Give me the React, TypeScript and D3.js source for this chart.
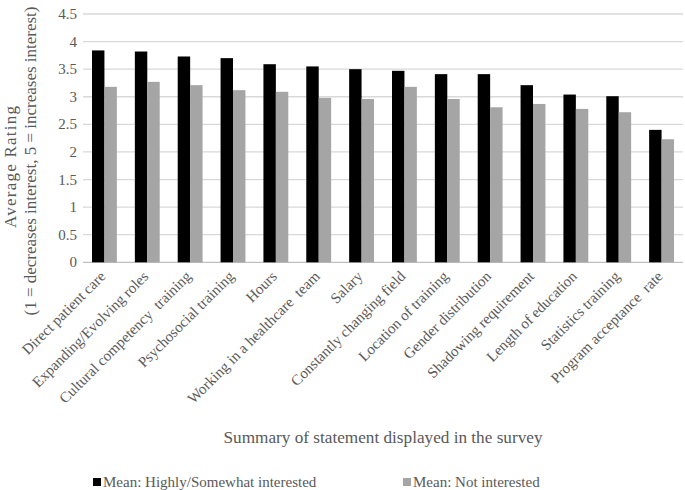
import React from "react";
import * as d3 from "d3";

const categories = [
  "Direct patient care",
  "Expanding/Evolving roles",
  "Cultural competency  training",
  "Psychosocial training",
  "Hours",
  "Working in a healthcare  team",
  "Salary",
  "Constantly changing field",
  "Location of training",
  "Gender distribution",
  "Shadowing requirement",
  "Length of education",
  "Statistics training",
  "Program acceptance  rate",
];
const interested = [3.84, 3.82, 3.73, 3.7, 3.59, 3.55, 3.5, 3.47, 3.41, 3.41, 3.21, 3.04, 3.01, 2.4];
const notInterested = [3.18, 3.27, 3.21, 3.12, 3.09, 2.98, 2.96, 3.18, 2.96, 2.81, 2.87, 2.78, 2.72, 2.23];
const yTicks = [0, 0.5, 1, 1.5, 2, 2.5, 3, 3.5, 4, 4.5];
const seriesNames = ["Mean: Highly/Somewhat interested", "Mean: Not interested"];
const seriesColors = ["#000000", "#a5a5a5"];

const W = 685;
const H = 490;
const m = { left: 83, right: 2, top: 14, bottom: 227.7 };
const FONT = "Liberation Serif, DejaVu Serif, serif";
const TXT = "#595959";
const ts = { fontFamily: FONT, whiteSpace: "pre" as const };

export default function App() {
  const x0 = d3
    .scaleBand<string>()
    .domain(categories)
    .range([m.left, W - m.right])
    .paddingInner(0.42)
    .paddingOuter(0.21);
  const x1 = d3.scaleBand<string>().domain(["a", "b"]).range([0, x0.bandwidth()]);
  const y = d3.scaleLinear().domain([0, 4.5]).range([H - m.bottom, m.top]);

  return (
    <svg
      width={W}
      height={H}
      style={{ position: "absolute", left: 0, top: 0, background: "#fff" }}
    >
      {yTicks.map((t) => (
        <g key={t}>
          <line
            x1={m.left}
            x2={W - m.right}
            y1={y(t)}
            y2={y(t)}
            stroke={t === 0 ? "#bfbfbf" : "#d9d9d9"}
            strokeWidth={1.3}
          />
          <text x={77} y={y(t)} dy="0.34em" textAnchor="end" fontSize={15} fill={TXT} style={ts}>
            {t}
          </text>
        </g>
      ))}
      {categories.map((c, i) => (
        <g key={c}>
          <rect
            x={(x0(c) as number) + (x1("a") as number)}
            y={y(interested[i])}
            width={x1.bandwidth()}
            height={y(0) - y(interested[i])}
            fill={seriesColors[0]}
          />
          <rect
            x={(x0(c) as number) + (x1("b") as number)}
            y={y(notInterested[i])}
            width={x1.bandwidth()}
            height={y(0) - y(notInterested[i])}
            fill={seriesColors[1]}
          />
        </g>
      ))}
      {categories.map((c) => {
        const cx = (x0(c) as number) + x0.bandwidth() / 2;
        const ax = cx + 2;
        const ay = y(0) + 15;
        return (
          <text
            key={c}
            x={ax}
            y={ay}
            textAnchor="end"
            fontSize={15}
            fill={TXT}
            transform={`rotate(-45 ${ax} ${ay})`}
            style={ts}
          >
            {c}
          </text>
        );
      })}
      <text
        x={(m.left + W - m.right) / 2}
        y={443}
        textAnchor="middle"
        fontSize={17}
        fill={TXT}
        textLength={319}
        lengthAdjust="spacingAndGlyphs"
        style={ts}
      >
        Summary of statement displayed in the survey
      </text>
      <text
        transform={`translate(16 ${167}) rotate(-90)`}
        textAnchor="middle"
        fontSize={17}
        fill={TXT}
        textLength={122}
        lengthAdjust="spacing"
        style={ts}
      >
        Average Rating
      </text>
      <text
        transform={`translate(36 ${161}) rotate(-90)`}
        textAnchor="middle"
        fontSize={17}
        fill={TXT}
        style={ts}
      >
        (1 = decreases interest, 5 = increases interest)
      </text>
      {seriesNames.map((s, i) => {
        const lx = i === 0 ? 93 : 403;
        return (
          <g key={s}>
            <rect x={lx} y={478} width={8} height={8} fill={seriesColors[i]} />
            <text x={lx + 10} y={487} fontSize={15} fill={TXT} style={ts}>
              {s}
            </text>
          </g>
        );
      })}
    </svg>
  );
}
